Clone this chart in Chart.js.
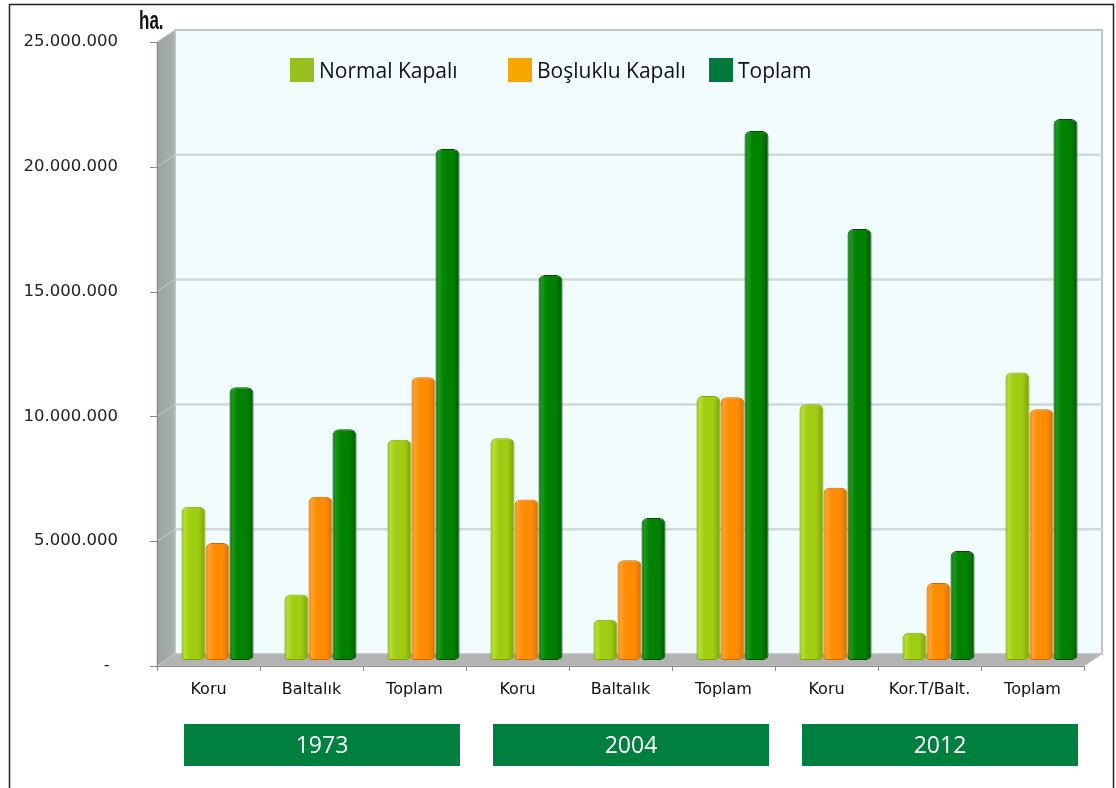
<!DOCTYPE html>
<html>
<head>
<meta charset="utf-8">
<script src="https://cdn.jsdelivr.net/npm/chart.js@4"></script>
<style>
html,body{margin:0;padding:0;background:#fff;}
canvas{display:block;}
</style>
</head>
<body>
<canvas id="c" width="1116" height="788"></canvas>
<script>
const categories = ['Koru','Baltalık','Toplam','Koru','Baltalık','Toplam','Koru','Kor.T/Balt.','Toplam'];
const years = ['1973','2004','2012'];
const seriesNames = ['Normal Kapalı','Boşluklu Kapalı','Toplam'];
const normalKapali   = [6140000, 2620000, 8820000, 8880000, 1610000, 10580000, 10250000, 1090000, 11520000];
const bosluklukapali = [4690000, 6540000, 11330000, 6430000, 4000000, 10530000, 6900000, 3080000, 10050000];
const toplam         = [10930000, 9240000, 20470000, 15420000, 5690000, 21190000, 17270000, 4370000, 21670000];
const yTicks = [0, 5000000, 10000000, 15000000, 20000000, 25000000];
const unitLabel = 'ha.';

const barColors = [
  {edge:'#7fa400', light:'#b6e02a', base:'#9fcd12', dark:'#88b008'},
  {edge:'#d06a00', light:'#ffa126', base:'#ff8c00', dark:'#e67a00'},
  {edge:'#004f00', light:'#1a9a1a', base:'#008200', dark:'#006800'}
];
const legendColors = ['#97c11f','#f7a600','#007a3d'];

function fmt(v){
  if (v === 0) return '-\u2002';
  return String(v).replace(/\B(?=(\d{3})+(?!\d))/g, '.');
}

const DX = 9, DY = 6; // half depth offset

const decor = {
  id: 'decor',
  beforeDraw(chart){
    const ctx = chart.ctx;
    const x = chart.scales.x, y = chart.scales.y;
    const L = chart.chartArea.left, R = chart.chartArea.right;
    const top = y.getPixelForValue(25000000), bot = y.getPixelForValue(0);
    ctx.save();
    ctx.fillStyle = '#fff';
    ctx.fillRect(0,0,chart.width,chart.height);
    // outer frame
    ctx.strokeStyle = '#222'; ctx.lineWidth = 1.5;
    ctx.strokeRect(9.5, 4.5, 1104, 820);
    // back wall
    ctx.fillStyle = '#f0fcfd';
    ctx.fillRect(L+DX, top-DY, R-L, bot-top);
    ctx.strokeStyle = '#bfc4c4'; ctx.lineWidth = 2;
    ctx.strokeRect(L+DX, top-DY, R-L, bot-top);
    // grid lines on back wall
    yTicks.forEach(v => {
      if (v === 0 || v === 25000000) return;
      const py = y.getPixelForValue(v) - DY;
      ctx.strokeStyle = '#d2d8d8'; ctx.lineWidth = 2.5;
      ctx.beginPath(); ctx.moveTo(L+DX, py); ctx.lineTo(R+DX, py); ctx.stroke();
    });
    // left wall
    const g = ctx.createLinearGradient(L-DX,0,L+DX,0);
    g.addColorStop(0,'#9aa2a2'); g.addColorStop(1,'#a9b0b0');
    ctx.fillStyle = g;
    ctx.beginPath();
    ctx.moveTo(L-DX, top+DY); ctx.lineTo(L+DX, top-DY);
    ctx.lineTo(L+DX, bot-DY); ctx.lineTo(L-DX, bot+DY); ctx.closePath();
    ctx.fill();
    ctx.strokeStyle = '#c3c8c8'; ctx.lineWidth = 1; ctx.stroke();
    yTicks.forEach(v => {
      if (v === 0) return;
      const py = y.getPixelForValue(v) - DY;
      ctx.strokeStyle = '#c4caca'; ctx.lineWidth = 1;
      ctx.beginPath(); ctx.moveTo(L-DX, py+2*DY); ctx.lineTo(L+DX, py); ctx.stroke();
    });
    // floor
    ctx.fillStyle = '#b3b3b3';
    ctx.beginPath();
    ctx.moveTo(L-DX, bot+DY); ctx.lineTo(L+DX, bot-DY);
    ctx.lineTo(R+DX, bot-DY); ctx.lineTo(R-DX, bot+DY); ctx.closePath();
    ctx.fill();
    ctx.strokeStyle = '#c9c9c9'; ctx.lineWidth = 1; ctx.stroke();
    ctx.restore();
  },
  beforeDatasetsDraw(chart){
    const ctx = chart.ctx;
    chart.data.datasets.forEach((ds, di) => {
      const meta = chart.getDatasetMeta(di);
      const c = barColors[di];
      meta.data.forEach(el => {
        const x0 = el.x - el.width/2, x1 = el.x + el.width/2;
        if (!isFinite(x0) || !isFinite(x1)) return;
        const gr = ctx.createLinearGradient(x0,0,x1,0);
        gr.addColorStop(0, c.dark);
        gr.addColorStop(0.12, c.light);
        gr.addColorStop(0.35, c.base);
        gr.addColorStop(0.7, c.base);
        gr.addColorStop(0.9, c.dark);
        gr.addColorStop(1, c.edge);
        el.options = Object.assign({}, el.options, {backgroundColor: gr});
      });
    });
  },
  afterDraw(chart){
    const ctx = chart.ctx;
    const x = chart.scales.x, y = chart.scales.y;
    const L = chart.chartArea.left, R = chart.chartArea.right;
    const bot = y.getPixelForValue(0);
    ctx.save();
    // front axis line and ticks
    ctx.strokeStyle = '#8a8a8a'; ctx.lineWidth = 1;
    ctx.beginPath(); ctx.moveTo(L-DX, bot+DY+0.5); ctx.lineTo(R-DX, bot+DY+0.5); ctx.stroke();
    ctx.beginPath(); ctx.moveTo(L-DX+0.5, y.getPixelForValue(25000000)+DY); ctx.lineTo(L-DX+0.5, bot+DY); ctx.stroke();
    const cw = (R-L)/categories.length;
    for (let i=0;i<=categories.length;i++){
      const px = Math.round(L - DX + i*cw) + 0.5;
      ctx.beginPath(); ctx.moveTo(px, bot+DY); ctx.lineTo(px, bot+DY+5); ctx.stroke();
    }
    yTicks.forEach(v => {
      const py = Math.round(y.getPixelForValue(v)+DY)+0.5;
      ctx.beginPath(); ctx.moveTo(L-DX-7, py); ctx.lineTo(L-DX, py); ctx.stroke();
    });
    // year boxes
    ctx.font = '23px "Open Sans"';
    ctx.textAlign = 'center'; ctx.textBaseline = 'middle';
    years.forEach((yr, k) => {
      const i0 = k*3, i2 = k*3+2;
      const left = x.getPixelForValue(i0) - cw/2 + 18;
      const right = x.getPixelForValue(i2) + cw/2 - 15;
      ctx.fillStyle = '#00803f';
      ctx.fillRect(left, 724, right-left, 42);
      ctx.fillStyle = '#ffffff';
      ctx.fillText(yr, (left+right)/2, 746);
    });
    // legend
    const legX = [290, 508, 709];
    ctx.font = '21px "Open Sans"';
    ctx.textAlign = 'left'; ctx.textBaseline = 'alphabetic';
    chart.data.datasets.forEach((ds, di) => {
      ctx.fillStyle = legendColors[di];
      ctx.fillRect(legX[di], 58, 24, 24);
      ctx.fillStyle = '#111';
      ctx.fillText(ds.label, legX[di]+29, 78);
    });
    // unit label (condensed)
    ctx.save();
    ctx.translate(139, 29);
    ctx.scale(0.68, 1);
    ctx.font = 'bold 25px "Liberation Sans", sans-serif';
    ctx.fillStyle = '#111';
    ctx.fillText(unitLabel, 0, 0);
    ctx.restore();
    ctx.restore();
  }
};

const datasetsData = [normalKapali, bosluklukapali, toplam];
new Chart(document.getElementById('c'), {
  type: 'bar',
  data: {
    labels: categories,
    datasets: datasetsData.map((d, i) => ({
      label: seriesNames[i],
      data: d,
      backgroundColor: barColors[i].base,
      borderColor: barColors[i].edge,
      borderWidth: 1,
      borderSkipped: false,
      borderRadius: {topLeft: 6, topRight: 6, bottomLeft: 3, bottomRight: 5},
      categoryPercentage: 0.70,
      barPercentage: 1.0
    }))
  },
  options: {
    responsive: false,
    animation: false,
    devicePixelRatio: 1,
    layout: {padding: {left: 0, top: 36, right: 23, bottom: 88}},
    plugins: {legend: {display: false}, tooltip: {enabled: false}},
    scales: {
      x: {
        type: 'category',
        grid: {display: false, drawTicks: false},
        border: {display: false},
        ticks: {
          color: '#111', font: {family: 'DejaVu Sans', size: 16},
          padding: 20, labelOffset: -DX, maxRotation: 0, autoSkip: false
        },
        afterFit(s){ s.height = 40; s.paddingLeft = 0; s.paddingRight = 0; }
      },
      y: {
        min: 0, max: 25000000,
        grid: {display: false, drawTicks: false},
        border: {display: false},
        afterBuildTicks(s){ s.ticks = yTicks.map(v => ({value: v})); },
        ticks: {
          color: '#222', font: {family: 'DejaVu Sans', size: 16.5},
          padding: 48, labelOffset: DY,
          callback: v => fmt(v)
        },
        afterFit(s){ s.width = 166; s.paddingTop = 0; s.paddingBottom = 0; }
      }
    }
  },
  plugins: [decor]
});
</script>
</body>
</html>
